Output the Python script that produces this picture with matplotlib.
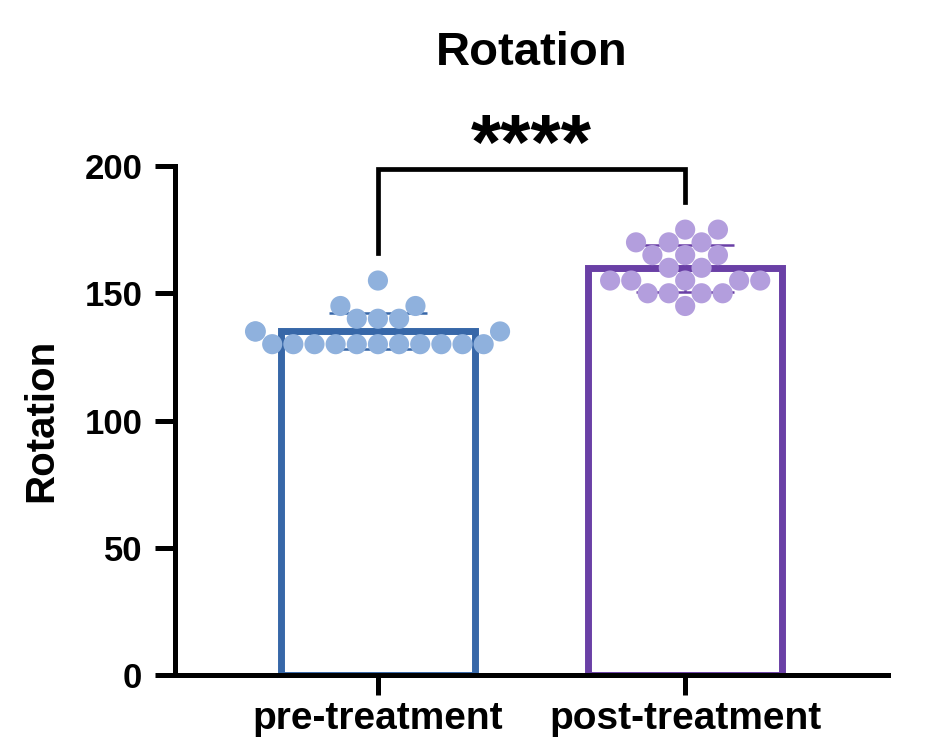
import numpy as np
import pandas as pd
import matplotlib
matplotlib.use("Agg")
import matplotlib.pyplot as plt
import seaborn as sns

### data
groups = ["pre-treatment", "post-treatment"]
pre_vals = [130]*11 + [135]*3 + [140]*3 + [145]*2 + [155]
post_vals = [175]*2 + [170]*3 + [165]*3 + [160]*2 + [155]*5 + [150]*4 + [145]
yticks = [0, 50, 100, 150, 200]

edge_cols = ["#3767A8", "#6A40A6"]
dot_cols = ["#8FB1DD", "#B39EDD"]

plt.rcParams['font.family'] = ['Liberation Sans', 'DejaVu Sans']
plt.rcParams['font.weight'] = 'bold'

fig = plt.figure(figsize=(9.35, 7.51), dpi=100)
ax = fig.add_axes([0.187, 0.101, 0.763, 0.678])

all_vals = [pre_vals, post_vals]
means = [np.mean(v) for v in all_vals]
sds = [np.std(v, ddof=1) for v in all_vals]

for i in range(2):
    ax.bar(i, means[i], width=0.63, facecolor='white', edgecolor=edge_cols[i],
           linewidth=5, zorder=1)
    ax.errorbar(i, means[i], yerr=sds[i], color=edge_cols[i], capsize=35,
                elinewidth=1.8, capthick=1.8, zorder=2)

df = pd.DataFrame({"group": [groups[0]]*len(pre_vals) + [groups[1]]*len(post_vals),
                   "val": pre_vals + post_vals})
sns.swarmplot(data=df, x="group", y="val", hue="group", palette=dot_cols,
              size=14.5, linewidth=0, ax=ax, zorder=3, legend=False)

ax.set_xlim(-0.661, 1.661)
ax.set_ylim(0, 200)
ax.set_yticks(yticks)
ax.set_xticks([0, 1])
ax.set_xticklabels(groups)
ax.set_xlabel("")
ax.set_ylabel("")
ax.tick_params(axis='both', width=3.6, length=14.5, direction='out')
ax.tick_params(axis='y', labelsize=25, pad=9)
ax.tick_params(axis='x', labelsize=28, pad=4)
for s in ['top', 'right']:
    ax.spines[s].set_visible(False)
for s in ['left', 'bottom']:
    ax.spines[s].set_linewidth(3.6)
    ax.spines[s].set_capstyle('projecting')

fig.text(0.044, 0.44, "Rotation", rotation=90, ha='center', va='center',
         fontsize=29, fontweight='bold')

### significance bracket
ax.plot([0, 0, 1, 1], [166, 198.8, 198.8, 186], color='black', lw=3.4,
        clip_on=False, solid_joinstyle='miter')
ax.text(0.5, 207, "****", ha='center', va='center', fontsize=56, fontweight='bold')

fig.text(0.569, 0.9134, "Rotation", ha='center', va='baseline',
         fontsize=34, fontweight='bold')

fig.savefig("out.png", dpi=100)
